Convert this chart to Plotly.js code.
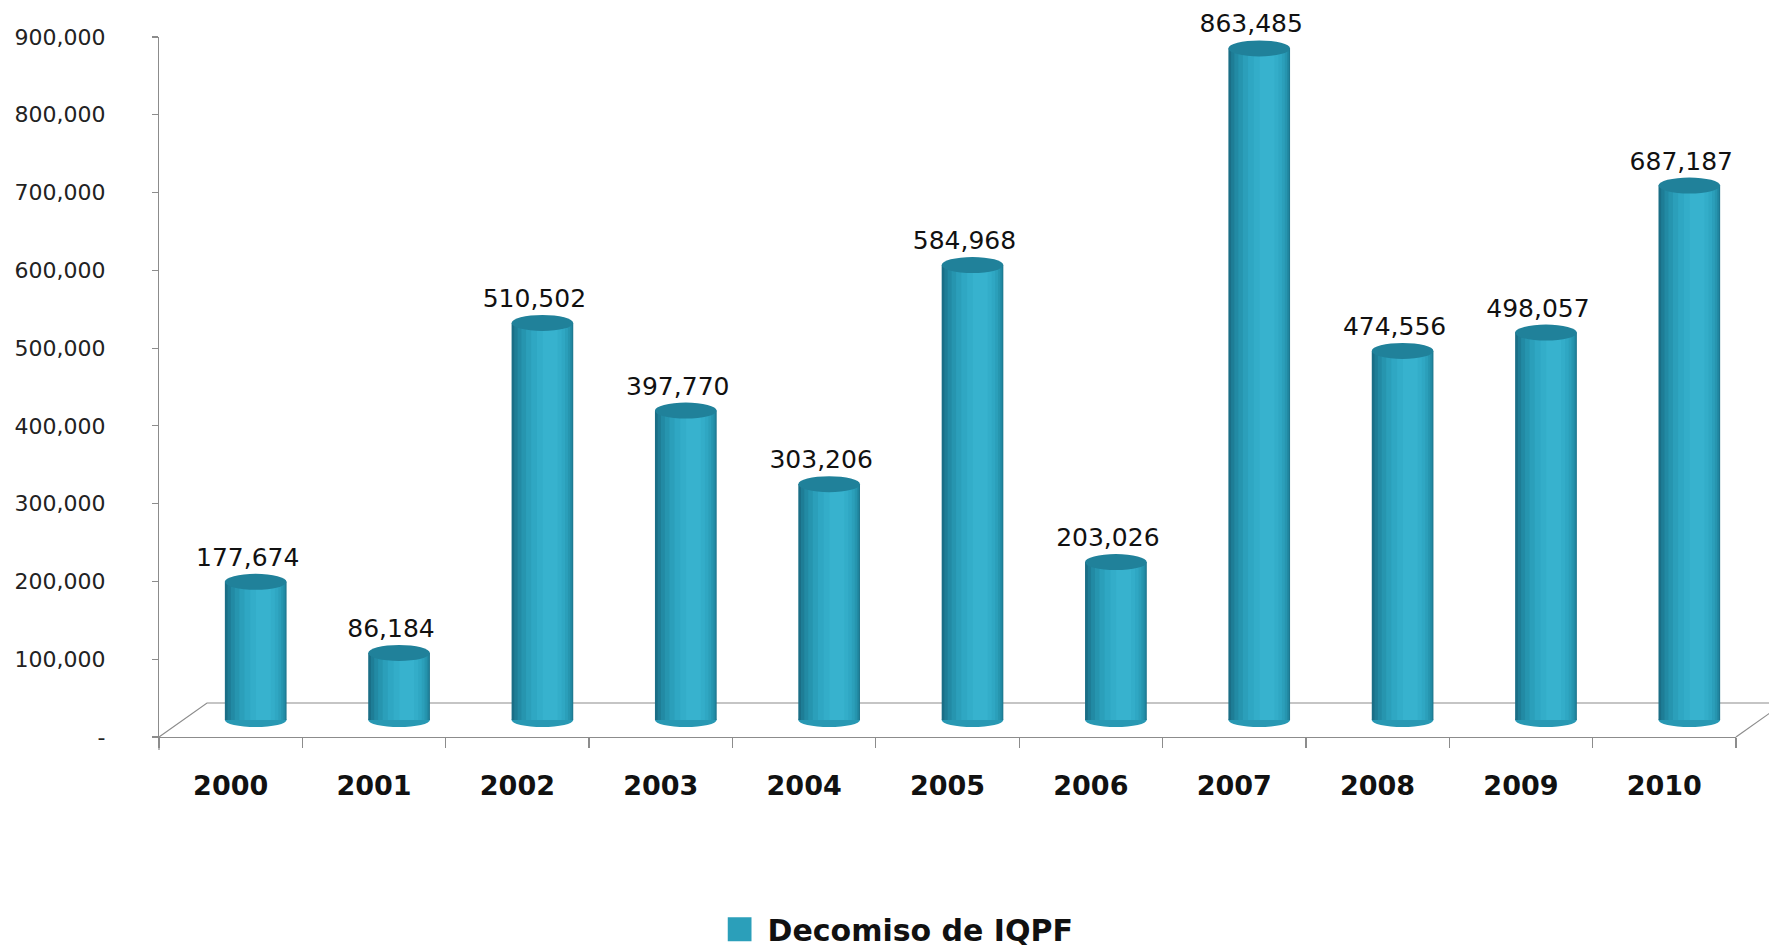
<!DOCTYPE html>
<html>
<head>
<meta charset="utf-8">
<script src="https://cdn.plot.ly/plotly-3.0.1.min.js"></script>
<style>html,body{margin:0;padding:0;background:#fff;}#chart{width:1769px;height:947px;}</style>
</head>
<body>
<div id="chart"></div>
<script>
// ---- data ----
const years = ['2000','2001','2002','2003','2004','2005','2006','2007','2008','2009','2010'];
const values = [177674, 86184, 510502, 397770, 303206, 584968, 203026, 863485, 474556, 498057, 687187];
const seriesName = 'Decomiso de IQPF';
const yTickVals = [0, 100000, 200000, 300000, 400000, 500000, 600000, 700000, 800000, 900000];
const yTickText = ['-', '100,000', '200,000', '300,000', '400,000', '500,000', '600,000', '700,000', '800,000', '900,000'];

// ---- geometry (pixels) ----
const W = 1769, H = 947;
const L = 159, T = 20, B = 210;
const plotW = W - L, plotH = H - T - B;       // 1610 x 717
const axW = 1577, axH = 700;                  // front axes size
const dx = 25, dy = 17;                       // depth shift of bars (mid-depth)
const labelDx = 17;                           // value labels sit slightly left of bar centres
const fx = 48, fy = 34;                       // floor depth
const barW = 0.43;
const grey = '#8c8c8c';
const yMax = 900000;
const perPx = yMax / axH;

// cylinder shading layers: [widthFraction, offsetShift, color]
const layers = [
  [1.00, 0.000, '#1a6e86'],
  [0.95, 0.008, '#1e7d96'],
  [0.88, 0.016, '#228aa4'],
  [0.79, 0.024, '#2695af'],
  [0.68, 0.032, '#2b9fba'],
  [0.55, 0.040, '#2fa7c3'],
  [0.40, 0.048, '#33adc9'],
  [0.24, 0.054, '#37b2ce']
];
const legendLayer = 4;

const traces = [];
// invisible trace so the front (labelled) axes are drawn
traces.push({
  type: 'scatter', mode: 'markers', x: years, y: values, xaxis: 'x', yaxis: 'y',
  marker: { size: 1, color: 'rgba(0,0,0,0)' }, showlegend: false, hoverinfo: 'skip'
});

layers.forEach((ly, k) => {
  const w = barW * ly[0];
  traces.push({
    type: 'bar', x: years, y: values, xaxis: 'x2', yaxis: 'y2',
    width: years.map(() => w),
    offset: years.map(() => -barW / 2 + (barW - w) / 2 + ly[1]),
    marker: { color: ly[2], line: { width: 0 } },
    name: seriesName,
    showlegend: k === legendLayer,
    hoverinfo: 'skip'
  });
});

// value labels
traces.push({
  type: 'scatter', mode: 'markers+text', x: years, y: values, xaxis: 'x3', yaxis: 'y3',
  texttemplate: '%{y:,}', textposition: 'top center',
  textfont: { family: 'DejaVu Sans', size: 25, color: '#111' },
  marker: { size: 14, color: 'rgba(0,0,0,0)' },
  showlegend: false, hoverinfo: 'skip', cliponaxis: false
});

const shapes = [];
// floor (paper coordinates)
const px = v => v / plotW, py = v => v / plotH;
shapes.push({ type: 'path', xref: 'paper', yref: 'paper', layer: 'below',
  path: `M0,0 L${px(fx)},${py(fy)} L${px(axW + fx)},${py(fy)}`,
  line: { color: grey, width: 1.2 } });
shapes.push({ type: 'line', xref: 'paper', yref: 'paper', layer: 'below',
  x0: px(axW), y0: 0, x1: px(axW + fx), y1: py(fy), line: { color: grey, width: 1.2 } });
shapes.push({ type: 'line', xref: 'paper', yref: 'paper', layer: 'below',
  x0: 0, y0: 0, x1: 0, y1: py(-13), line: { color: grey, width: 1.2 } });

// cylinder caps built from the data
years.forEach((yr, i) => {
  shapes.push({ type: 'circle', xref: 'x2', yref: 'y2', layer: 'below',
    x0: i - barW / 2, x1: i + barW / 2, ysizemode: 'pixel', yanchor: 0, y0: -7, y1: 7,
    fillcolor: '#2898b3', line: { width: 0 } });
  shapes.push({ type: 'circle', xref: 'x2', yref: 'y2', layer: 'above',
    x0: i - barW / 2, x1: i + barW / 2, ysizemode: 'pixel', yanchor: values[i], y0: -8, y1: 8,
    fillcolor: '#20819a', line: { width: 0 } });
});

const layout = {
  width: W, height: H,
  margin: { l: L, r: 0, t: T, b: B, pad: 0, autoexpand: false },
  paper_bgcolor: '#ffffff', plot_bgcolor: 'rgba(0,0,0,0)',
  barmode: 'overlay',
  showlegend: true,
  font: { family: 'DejaVu Sans', color: '#111' },
  xaxis: {
    type: 'category', domain: [0, axW / plotW], anchor: 'y', range: [-0.5, 10.5],
    showline: true, linecolor: grey, linewidth: 1.2,
    ticks: 'outside', tickson: 'boundaries', ticklen: 10, tickcolor: grey, tickwidth: 1.2,
    tickfont: { family: 'DejaVu Sans', size: 27, color: '#111', weight: 'bold' },
    tickangle: 0, automargin: false,
    ticklabelstandoff: 24,
    showgrid: false, zeroline: false, fixedrange: true
  },
  yaxis: {
    domain: [0, axH / plotH], anchor: 'x', range: [0, yMax],
    tickvals: yTickVals, ticktext: yTickText,
    showline: true, linecolor: grey, linewidth: 1.2,
    ticks: 'outside', ticklen: 6, tickcolor: grey, tickwidth: 1.2,
    tickfont: { family: 'DejaVu Sans', size: 22, color: '#222' },
    ticklabelstandoff: 42, automargin: false,
    showgrid: false, zeroline: false, fixedrange: true
  },
  xaxis2: {
    type: 'category', domain: [dx / plotW, (axW + dx) / plotW], anchor: 'y2', range: [-0.5, 10.5],
    visible: false, fixedrange: true
  },
  yaxis2: {
    domain: [0, 1], anchor: 'x2', range: [-dy * perPx, yMax],
    visible: false, fixedrange: true
  },
  xaxis3: {
    type: 'category', domain: [labelDx / plotW, (axW + labelDx) / plotW], anchor: 'y3', range: [-0.5, 10.5],
    visible: false, fixedrange: true
  },
  yaxis3: {
    domain: [0, 1], anchor: 'x3', range: [-dy * perPx, yMax],
    visible: false, fixedrange: true
  },
  legend: {
    orientation: 'h', xref: 'paper', yref: 'paper',
    x: (903 - L) / plotW, xanchor: 'center', y: -0.268, yanchor: 'middle',
    font: { family: 'DejaVu Sans', size: 30, color: '#111', weight: 'bold' },
    bgcolor: 'rgba(0,0,0,0)'
  },
  shapes: shapes
};

Plotly.newPlot('chart', traces, layout, { displayModeBar: false, staticPlot: true }).then(gd => {
  gd.querySelectorAll('.legend .legendpoints path').forEach(p => {
    p.setAttribute('d', 'M4,12H-20V-12H4Z');
  });
});
</script>
</body>
</html>
